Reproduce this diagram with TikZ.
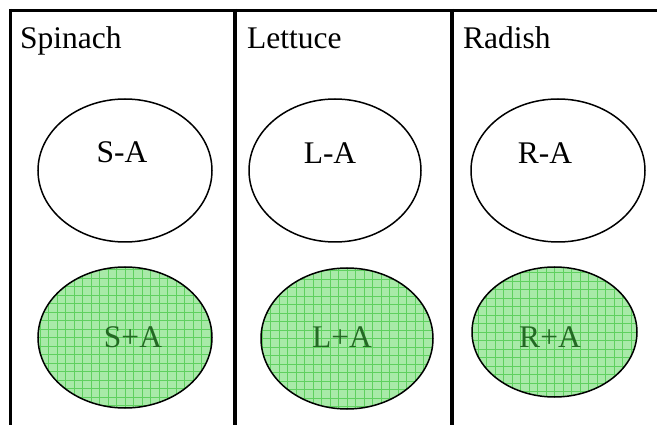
\documentclass[tikz,border=0pt]{standalone}
\usepackage{fontspec}
\setmainfont{Liberation Serif}
\usetikzlibrary{
  shapes.geometric
}
\definecolor{leafbg}{RGB}{168,234,168}
\definecolor{leafgrid}{RGB}{95,208,95}
\definecolor{leaftext}{RGB}{35,105,35}

\begin{document}
\begin{tikzpicture}[
  x=1pt, y=-1pt,
  every node/.style={
    inner sep=0pt,
    font=\fontsize{31.5}{36}\selectfont,
    },
  frame/.style={line width=3pt},
  divider/.style={line width=4pt},
  heading/.style={anchor=base west},
  ell/.style={
    ellipse, draw, line width=1.5pt, fill=white,
    },
  leaf/.style={
    ell, fill=leafbg,
    path picture={
      \draw[leafgrid, line width=0.7pt]
        (path picture bounding box.south west) grid[step=8.5pt]
        (path picture bounding box.north east);
      },
    },
  tag/.style={anchor=base},
  leaftag/.style={anchor=base, text=leaftext},
  ]
\useasboundingbox (0,0) rectangle (657,425);
% frame and columns
\draw[frame] (10,10.5) -- (657,10.5);
\draw[frame] (10,9) -- (10,425);
\draw[divider] (235,9) -- (235,425);
\draw[divider] (451.5,9) -- (451.5,425);
% headings
\node[heading] (spinach) at (20,49) {Spinach};
\node[heading] (lettuce) at (247,49) {Lettuce};
\node[heading] (radish) at (463,49) {Radish};
% without A
\node[ell, minimum width=174pt, minimum height=143pt] (sminus) at (125,170.5) {};
\node[ell, minimum width=172pt, minimum height=143pt] (lminus) at (335,170.5) {};
\node[ell, minimum width=174pt, minimum height=143pt] (rminus) at (558,170.5) {};
\node[tag] (sminustag) at (122,163) {S-A};
\node[tag] (lminustag) at (330,164) {L-A};
\node[tag] (rminustag) at (545,164) {R-A};
% with A
\node[leaf, minimum width=174pt, minimum height=141pt] (splus) at (125,337.5) {};
\node[leaf, minimum width=172pt, minimum height=141pt] (lplus) at (347,338.5) {};
\node[leaf, minimum width=165pt, minimum height=130pt] (rplus) at (554.5,332) {};
\node[leaftag] (splustag) at (133,348) {S+A};
\node[leaftag] (lplustag) at (342,348) {L+A};
\node[leaftag] (rplustag) at (550,348) {R+A};
\end{tikzpicture}
\end{document}
